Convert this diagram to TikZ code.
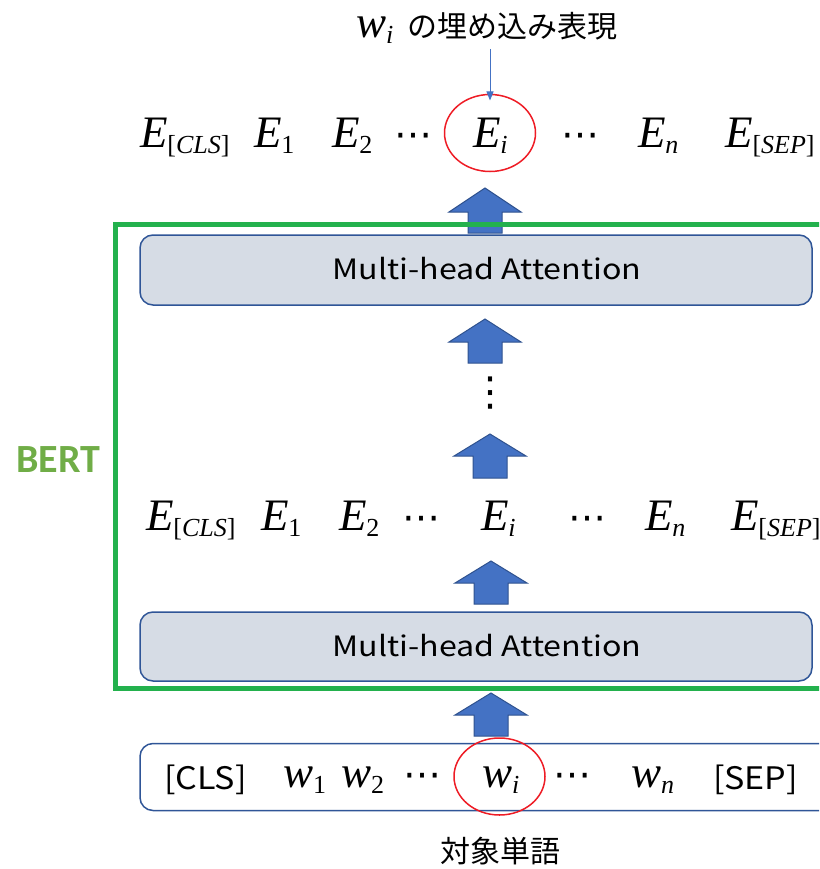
\documentclass[tikz,border=0pt]{standalone}
\usepackage{fontspec}
\usepackage{graphicx}
\setmainfont{Liberation Serif}
\newfontfamily\jpfont{Noto Sans CJK JP}
\newfontfamily\bertfont{Carlito}
\newfontfamily\symfont{DejaVu Sans}
\usetikzlibrary{arrows.meta,shapes.geometric}
\definecolor{arrowblue}{HTML}{4472C4}
\definecolor{arrowedge}{HTML}{2F528F}
\definecolor{boxfill}{HTML}{D6DCE5}
\definecolor{boxedge}{HTML}{2F5597}
\definecolor{bertgreen}{HTML}{23B14D}
\definecolor{labelgreen}{HTML}{70AD47}
\definecolor{circred}{HTML}{EE1C25}
\newcommand{\Eit}[2]{{\fontsize{45}{45}\selectfont\itshape #1}\raisebox{-6pt}{\fontsize{26}{26}\selectfont #2}}
\newcommand{\bigdots}{{\symfont\fontsize{38}{38}\selectfont ⋯}}
\newcommand{\mhtext}{{\jpfont\fontsize{28}{28}\selectfont\scalebox{1.15}[1]{Multi-head Attention}}}
\newcommand{\intext}[1]{{\jpfont\fontsize{31}{31}\selectfont\scalebox{1.1}[1]{#1}}}
\newcommand{\blockup}[4]{%
  \filldraw[blockarrow] ({#1-36},#3) -- (#1,#2) -- ({#1+36},#3) -- ({#1+17},#3)
    -- ({#1+17},#4) -- ({#1-17},#4) -- ({#1-17},#3) -- cycle;}
\begin{document}
\begin{tikzpicture}[x=1pt,y=-1pt,
  every node/.style={inner sep=0pt, outer sep=0pt},
  item/.style={anchor=base west},
  blockarrow/.style={fill=arrowblue, draw=arrowedge, line width=1pt, line join=miter},
  mhbox/.style={draw=boxedge, fill=boxfill, line width=1.5pt, rounded corners=13pt},
  inbox/.style={draw=boxedge, fill=white, line width=1.5pt, rounded corners=13pt},
  bertframe/.style={draw=bertgreen, line width=5pt},
  redring/.style={draw=circred, line width=1.5pt, ellipse, minimum width=91pt, minimum height=77pt},
  thinarrow/.style={draw=arrowblue, line width=1pt, -{Triangle[length=9pt,width=7pt]}},
  jplabel/.style={font=\jpfont\fontsize{30}{30}\selectfont}
]
\useasboundingbox (0,0) rectangle (819,869);
\clip (0,0) rectangle (819,869);

% top label
\node[item] (label) at (356,38) {{\fontsize{45}{45}\selectfont\itshape w}\raisebox{-6pt}{\fontsize{26}{26}\selectfont\itshape i}\hspace{14pt}{\jpfont\fontsize{30}{30}\selectfont の埋め込み表現}};
\coordinate (arrowstart) at (490,49);

% top E row (baseline 148)
\node[item] (tcls) at (140,148) {\Eit{E}{[\textit{CLS}]}};
\node[item] (t1) at (254,148) {\Eit{E}{1}};
\node[item] (t2) at (332,148) {\Eit{E}{2}};
\node[anchor=base] (tdotsa) at (413,148) {\bigdots};
\node[item] (ti) at (473,148) {\Eit{E}{\textit{i}}};
\node[anchor=base] (tdotsb) at (580,148) {\bigdots};
\node[item] (tn) at (638,148) {\Eit{E}{\textit{n}}};
\node[item] (tsep) at (725,148) {\Eit{E}{[\textit{SEP}]}};
\node[redring] (topring) at (490,133) {};
\draw[thinarrow] (arrowstart) -- ([yshift=-6pt]topring.north);

% arrow 1
\blockup{485}{188}{212}{233}

% top multi-head box
\node[mhbox, minimum width=672pt, minimum height=70pt] (mhtop) at (476,270) {};
\node (mhtoptext) at (487,269) {\mhtext};

% BERT frame
\draw[bertframe] (115.5,224.5) rectangle (850,688.5);
\node[font=\bertfont\bfseries\fontsize{40}{40}\selectfont, text=labelgreen] (bert) at (58,459.5) {BERT};

% arrow 2 and vertical dots
\blockup{485}{319}{342}{363}
\node (vdots) at (490,393) {\symfont\fontsize{40}{40}\selectfont ⋮};
\blockup{490}{434}{456}{478}

% middle E row (baseline 530)
\node[item] (mcls) at (146,530) {\Eit{E}{[\textit{CLS}]}};
\node[item] (m1) at (261,530) {\Eit{E}{1}};
\node[item] (m2) at (339,530) {\Eit{E}{2}};
\node[anchor=base] (mdotsa) at (421,530) {\bigdots};
\node[item] (mi) at (481,530) {\Eit{E}{\textit{i}}};
\node[anchor=base] (mdotsb) at (587,530) {\bigdots};
\node[item] (mn) at (645,530) {\Eit{E}{\textit{n}}};
\node[item] (msep) at (731,530) {\Eit{E}{[\textit{SEP}]}};

\blockup{491}{561}{583}{604}

% lower multi-head box
\node[mhbox, minimum width=672pt, minimum height=69pt] (mhlow) at (476,646.5) {};
\node (mhlowtext) at (487,645.5) {\mhtext};

\blockup{491}{693}{715}{736}

% input box
\node[inbox, minimum width=720pt, minimum height=67pt, anchor=west] (inbox) at (140,777) {};
\node[item] (icls) at (164,789) {\intext{[CLS]}};
\node[item] (w1) at (283,787) {\Eit{w}{1}};
\node[item] (w2) at (341,787) {\Eit{w}{2}};
\node[anchor=base] (idotsa) at (422,787) {\bigdots};
\node[item] (wi) at (482,787) {\Eit{w}{\textit{i}}};
\node[anchor=base] (idotsb) at (572,787) {\bigdots};
\node[item] (wn) at (631,787) {\Eit{w}{\textit{n}}};
\node[item] (isep) at (713,789) {\intext{[SEP]}};
\node[redring] (lowring) at (499.5,776.5) {};

% bottom label
\node[jplabel] (target) at (500,851) {対象単語};
\end{tikzpicture}
\end{document}
